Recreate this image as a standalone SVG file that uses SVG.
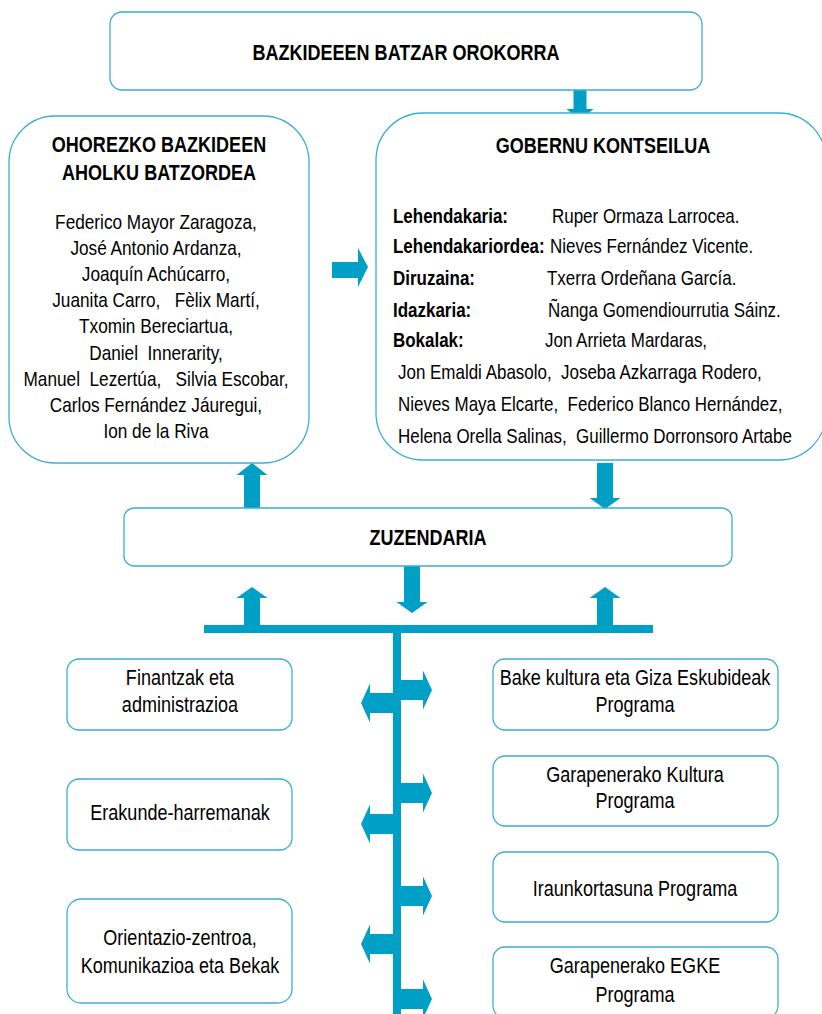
<svg xmlns="http://www.w3.org/2000/svg" width="822" height="1014" viewBox="0 0 822 1014">
<style>
  .box { fill: #ffffff; stroke: #3DAED3; stroke-width: 1.3; }
  .arr { fill: #00A0C6; stroke: none; }
  text { font-family: "Liberation Sans", Arial, sans-serif; fill: #000000; }
  .t { font-weight: bold; font-size: 22px; text-anchor: middle; }
  .n { font-size: 21px; text-anchor: middle; }
  .g { font-size: 20.7px; }
  .gb { font-size: 20.7px; font-weight: bold; }
  .b { font-size: 22px; text-anchor: middle; }
</style>
<rect width="822" height="1014" fill="#ffffff"/>

<g id="connectors">
  <path class="arr" d="M573.5,84 H586.5 V109 H593.5 L580,120 L566.5,109 H573.5 Z"/>
  <path class="arr" d="M332,262 H358 V248 L368,267 L358,287 V278 H332 Z"/>
  <path class="arr" d="M244,509 V475 H236.5 L252,463 L267.5,475 H260 V509 Z"/>
  <path class="arr" d="M597,463 H613 V498 H620.5 L605,509 L589.5,498 H597 Z"/>
  <path class="arr" d="M404,566 H420 V602 H427.5 L412,613 L396.5,602 H404 Z"/>
  <path class="arr" d="M244,625 V598 H236.5 L252,587 L267.5,598 H260 V625 Z"/>
  <path class="arr" d="M597,625 V598 H589.5 L605,587 L620.5,598 H613 V625 Z"/>
  <rect class="arr" x="204" y="625" width="449" height="8"/>
  <rect class="arr" x="393" y="625" width="8" height="389"/>
  <path class="arr" d="M400,680 H423 V670.5 L432,690 L423,709.5 V700 H400 Z"/>
  <path class="arr" d="M400,783 H423 V773.5 L432,793 L423,812.5 V803 H400 Z"/>
  <path class="arr" d="M400,886 H423 V876.5 L432,896 L423,915.5 V906 H400 Z"/>
  <path class="arr" d="M400,989 H423 V979.5 L432,999 L423,1018.5 V1009 H400 Z"/>
  <path class="arr" d="M394,693 H370 V683.5 L361,703 L370,722.5 V713 H394 Z"/>
  <path class="arr" d="M394,814 H370 V804.5 L361,824 L370,843.5 V834 H394 Z"/>
  <path class="arr" d="M394,934 H370 V924.5 L361,944 L370,963.5 V954 H394 Z"/>
</g>

<g id="batzar-orokorra">
  <rect class="box" x="110" y="12" width="592" height="78" rx="12"/>
  <text class="t" transform="translate(406,60) scale(0.82,1)">BAZKIDEEEN BATZAR OROKORRA</text>
</g>

<g id="ohorezko">
  <rect class="box" x="9" y="116" width="300" height="347" rx="46"/>
  <text class="t" transform="translate(159,152) scale(0.82,1)">OHOREZKO BAZKIDEEN</text>
  <text class="t" transform="translate(159,180) scale(0.82,1)">AHOLKU BATZORDEA</text>
  <text class="n" transform="translate(156,229) scale(0.82,1)">Federico Mayor Zaragoza,</text>
  <text class="n" transform="translate(156,255) scale(0.82,1)">José Antonio Ardanza,</text>
  <text class="n" transform="translate(156,281) scale(0.82,1)">Joaquín Achúcarro,</text>
  <text class="n" transform="translate(156,307) scale(0.82,1)" xml:space="preserve">Juanita Carro,   Fèlix Martí,</text>
  <text class="n" transform="translate(156,333) scale(0.82,1)">Txomin Bereciartua,</text>
  <text class="n" transform="translate(156,360) scale(0.82,1)" xml:space="preserve">Daniel  Innerarity,</text>
  <text class="n" transform="translate(156,386) scale(0.82,1)" xml:space="preserve">Manuel  Lezertúa,   Silvia Escobar,</text>
  <text class="n" transform="translate(156,412) scale(0.82,1)">Carlos Fernández Jáuregui,</text>
  <text class="n" transform="translate(156,438) scale(0.82,1)">Ion de la Riva</text>
</g>

<g id="gobernu">
  <rect class="box" x="376" y="113" width="450" height="347" rx="47"/>
  <text class="t" transform="translate(603,153) scale(0.82,1)">GOBERNU KONTSEILUA</text>
  <text class="gb" transform="translate(393,223) scale(0.82,1)">Lehendakaria:</text>
  <text class="g" transform="translate(552,223) scale(0.82,1)">Ruper Ormaza Larrocea.</text>
  <text class="gb" transform="translate(393,253) scale(0.82,1)">Lehendakariordea:</text>
  <text class="g" transform="translate(550,253) scale(0.82,1)">Nieves Fernández Vicente.</text>
  <text class="gb" transform="translate(393,285) scale(0.82,1)">Diruzaina:</text>
  <text class="g" transform="translate(547,285) scale(0.82,1)">Txerra Ordeñana García.</text>
  <text class="gb" transform="translate(393,317) scale(0.82,1)">Idazkaria:</text>
  <text class="g" transform="translate(548,317) scale(0.82,1)">Ñanga Gomendiourrutia Sáinz.</text>
  <text class="gb" transform="translate(393,347) scale(0.82,1)">Bokalak:</text>
  <text class="g" transform="translate(545,347) scale(0.82,1)">Jon Arrieta Mardaras,</text>
  <text class="g" transform="translate(398,379) scale(0.82,1)" xml:space="preserve">Jon Emaldi Abasolo,  Joseba Azkarraga Rodero,</text>
  <text class="g" transform="translate(398,411) scale(0.82,1)" xml:space="preserve">Nieves Maya Elcarte,  Federico Blanco Hernández,</text>
  <text class="g" transform="translate(398,443) scale(0.82,1)" xml:space="preserve">Helena Orella Salinas,  Guillermo Dorronsoro Artabe</text>
</g>

<g id="zuzendaria">
  <rect class="box" x="124" y="508" width="608" height="58" rx="10"/>
  <text class="t" transform="translate(428,545) scale(0.82,1)">ZUZENDARIA</text>
</g>

<g id="finantzak">
  <rect class="box" x="67" y="659" width="225" height="71" rx="12"/>
  <text class="b" transform="translate(180,685) scale(0.82,1)">Finantzak eta</text>
  <text class="b" transform="translate(180,712) scale(0.82,1)">administrazioa</text>
</g>

<g id="erakunde">
  <rect class="box" x="67" y="779" width="225" height="71" rx="12"/>
  <text class="b" transform="translate(180,820) scale(0.82,1)">Erakunde-harremanak</text>
</g>

<g id="orientazio">
  <rect class="box" x="67" y="899" width="225" height="104" rx="14"/>
  <text class="b" transform="translate(180,945) scale(0.82,1)">Orientazio-zentroa,</text>
  <text class="b" transform="translate(180,973) scale(0.82,1)">Komunikazioa eta Bekak</text>
</g>

<g id="bake-kultura">
  <rect class="box" x="493" y="659" width="285" height="71" rx="12"/>
  <text class="b" transform="translate(635,685) scale(0.82,1)">Bake kultura eta Giza Eskubideak</text>
  <text class="b" transform="translate(635,712) scale(0.82,1)">Programa</text>
</g>

<g id="garapen-kultura">
  <rect class="box" x="493" y="756" width="285" height="70" rx="12"/>
  <text class="b" transform="translate(635,782) scale(0.82,1)">Garapenerako Kultura</text>
  <text class="b" transform="translate(635,808) scale(0.82,1)">Programa</text>
</g>

<g id="iraunkortasuna">
  <rect class="box" x="493" y="852" width="285" height="70" rx="12"/>
  <text class="b" transform="translate(635,896) scale(0.82,1)">Iraunkortasuna Programa</text>
</g>

<g id="egke">
  <rect class="box" x="493" y="947" width="285" height="71" rx="12"/>
  <text class="b" transform="translate(635,973) scale(0.82,1)">Garapenerako EGKE</text>
  <text class="b" transform="translate(635,1002) scale(0.82,1)">Programa</text>
</g>
</svg>
